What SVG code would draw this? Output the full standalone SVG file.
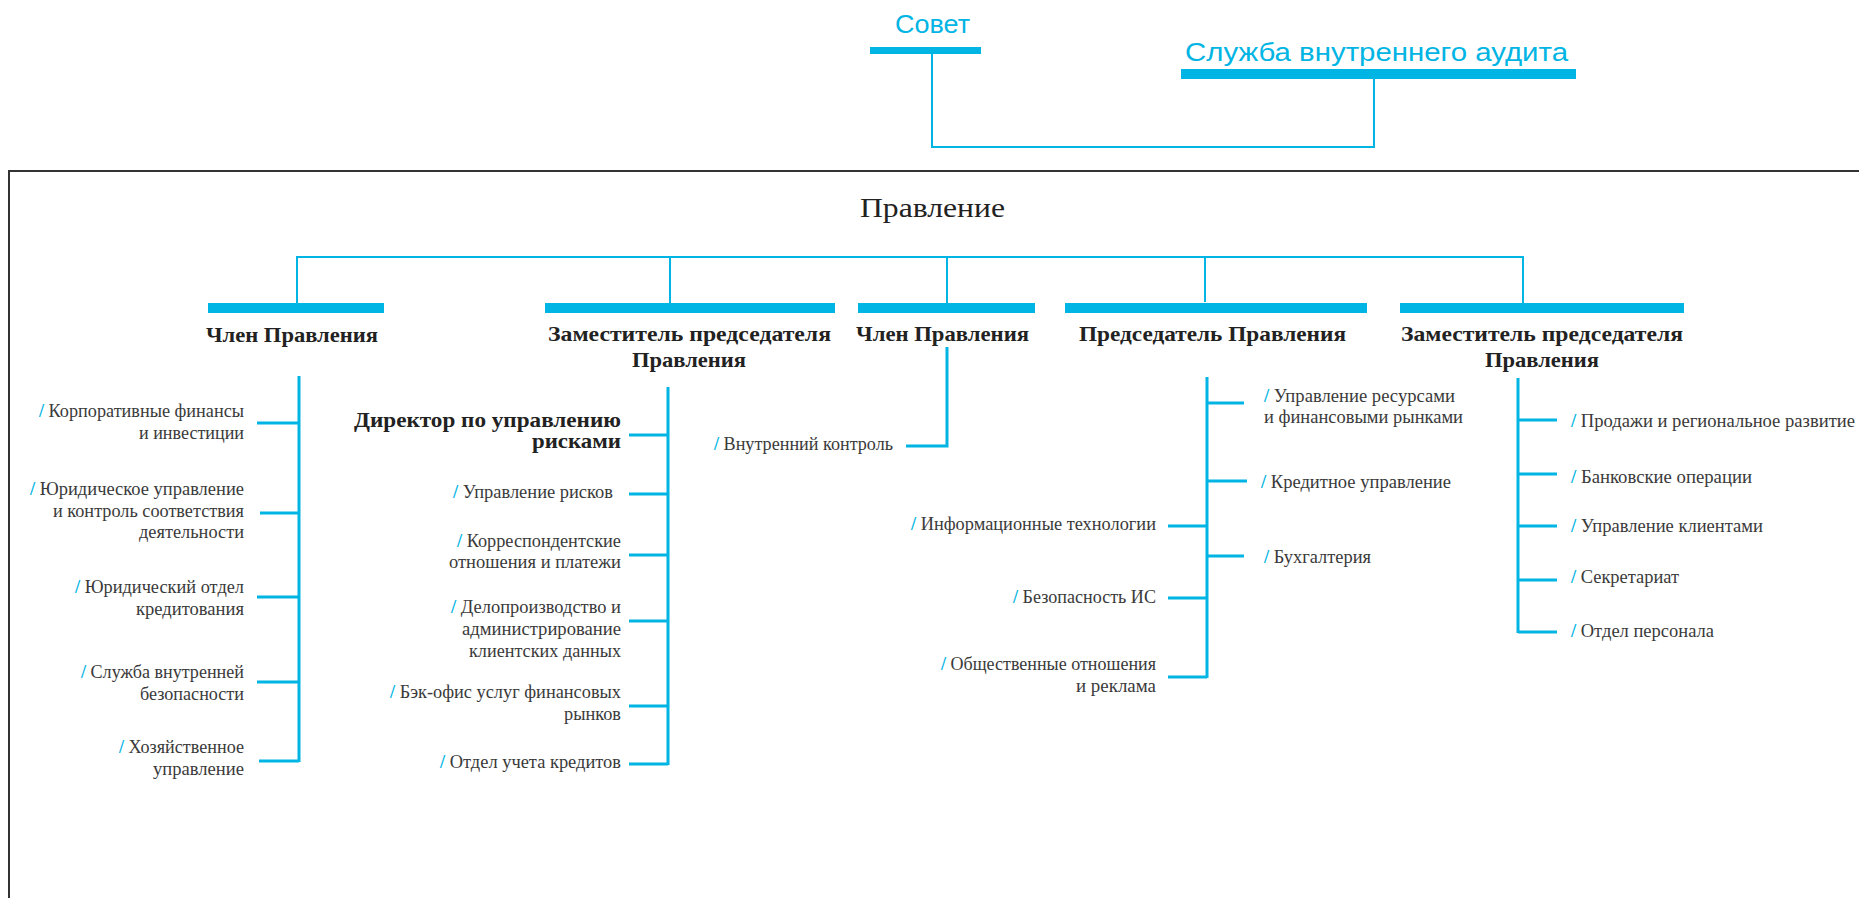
<svg xmlns="http://www.w3.org/2000/svg" width="1859" height="898" viewBox="0 0 1859 898">
<style>
.bar{fill:#00b4e3}
.ln{fill:none;stroke:#00b4e3;stroke-width:2}
.br{fill:none;stroke:#00b4e3;stroke-width:3}
.top{font-family:"Liberation Sans","DejaVu Sans",sans-serif;font-size:26px;fill:#00b4e3}
.title{font-family:"Liberation Serif","DejaVu Serif",serif;font-size:27px;fill:#222}
.hd{font-family:"Liberation Serif","DejaVu Serif",serif;font-size:21px;font-weight:bold;fill:#222;text-anchor:middle}
.dir{font-family:"Liberation Serif","DejaVu Serif",serif;font-size:21px;font-weight:bold;fill:#222;text-anchor:end}
.t{font-family:"Liberation Serif","DejaVu Serif",serif;font-size:18px;fill:#3a3a3a}
.r{text-anchor:end}
.s{fill:#00b4e3;font-weight:bold}
</style>
<rect x="9" y="171" width="1900" height="800" fill="none" stroke="#333" stroke-width="2"/>

<g id="connectors">
<path class="ln" d="M932,54 V147 H1374 V79"/>
<path class="ln" d="M297,304 V257 H1523 V303"/>
<path class="ln" d="M670,257 V303"/>
<path class="ln" d="M947,257 V304"/>
<path class="ln" d="M1205,257 V302"/>
<path class="br" d="M299,376 V762"/>
<path class="br" d="M257,423 H299 M260,513 H299 M257,597 H299 M257,682 H299 M259,761 H299"/>
<path class="br" d="M668,387 V765"/>
<path class="br" d="M629,435 H668 M629,494 H668 M629,555 H668 M629,621 H668 M629,706 H668 M629,764 H668"/>
<path class="br" d="M947,347 V446 H906"/>
<path class="br" d="M1207,377 V678"/>
<path class="br" d="M1207,403 H1244 M1207,481 H1247 M1207,556 H1244 M1168,526 H1207 M1168,598 H1207 M1168,677 H1207"/>
<path class="br" d="M1518,378 V633"/>
<path class="br" d="M1518,420 H1557 M1518,474 H1557 M1518,526 H1557 M1518,580 H1557 M1518,632 H1557"/>
</g>

<g id="sovet">
<rect class="bar" x="870" y="47" width="111" height="7"/>
<text class="top" x="895" y="33" textLength="75" lengthAdjust="spacingAndGlyphs">Совет</text>
</g>
<g id="audit">
<rect class="bar" x="1181" y="69" width="395" height="10"/>
<text class="top" x="1185" y="61" textLength="383" lengthAdjust="spacingAndGlyphs">Служба внутреннего аудита</text>
</g>
<g id="pravlenie">
<text class="title" x="860" y="217" textLength="145" lengthAdjust="spacingAndGlyphs">Правление</text>
</g>

<g id="member1">
<rect class="bar" x="208" y="303" width="176" height="10"/>
<text class="hd" x="292" y="342" textLength="172" lengthAdjust="spacingAndGlyphs">Член Правления</text>
</g>
<g id="deputy1">
<rect class="bar" x="545" y="303" width="290" height="10"/>
<text class="hd" x="689.5" y="341" textLength="283" lengthAdjust="spacingAndGlyphs">Заместитель председателя</text>
<text class="hd" x="689" y="367" textLength="114" lengthAdjust="spacingAndGlyphs">Правления</text>
</g>
<g id="member2">
<rect class="bar" x="858" y="303" width="177" height="10"/>
<text class="hd" x="942.5" y="341" textLength="173" lengthAdjust="spacingAndGlyphs">Член Правления</text>
</g>
<g id="chairman">
<rect class="bar" x="1065" y="303" width="302" height="10"/>
<text class="hd" x="1212.5" y="341" textLength="267" lengthAdjust="spacingAndGlyphs">Председатель Правления</text>
</g>
<g id="deputy2">
<rect class="bar" x="1400" y="303" width="284" height="10"/>
<text class="hd" x="1542" y="341" textLength="282" lengthAdjust="spacingAndGlyphs">Заместитель председателя</text>
<text class="hd" x="1542" y="367" textLength="114" lengthAdjust="spacingAndGlyphs">Правления</text>
</g>

<g id="member1-units">
<text class="t r" x="244" y="417" textLength="205" lengthAdjust="spacingAndGlyphs"><tspan class="s">/</tspan> Корпоративные финансы</text>
<text class="t r" x="244" y="439" textLength="105" lengthAdjust="spacingAndGlyphs">и инвестиции</text>
<text class="t r" x="244" y="495" textLength="214" lengthAdjust="spacingAndGlyphs"><tspan class="s">/</tspan> Юридическое управление</text>
<text class="t r" x="244" y="517" textLength="191" lengthAdjust="spacingAndGlyphs">и контроль соответствия</text>
<text class="t r" x="244" y="538" textLength="105" lengthAdjust="spacingAndGlyphs">деятельности</text>
<text class="t r" x="244" y="593" textLength="169" lengthAdjust="spacingAndGlyphs"><tspan class="s">/</tspan> Юридический отдел</text>
<text class="t r" x="244" y="615" textLength="108" lengthAdjust="spacingAndGlyphs">кредитования</text>
<text class="t r" x="244" y="678" textLength="163" lengthAdjust="spacingAndGlyphs"><tspan class="s">/</tspan> Служба внутренней</text>
<text class="t r" x="244" y="700" textLength="104" lengthAdjust="spacingAndGlyphs">безопасности</text>
<text class="t r" x="244" y="753" textLength="125" lengthAdjust="spacingAndGlyphs"><tspan class="s">/</tspan> Хозяйственное</text>
<text class="t r" x="244" y="775" textLength="91" lengthAdjust="spacingAndGlyphs">управление</text>
</g>

<g id="deputy1-units">
<text class="dir" x="621" y="427" textLength="267" lengthAdjust="spacingAndGlyphs">Директор по управлению</text>
<text class="dir" x="621" y="448" textLength="89" lengthAdjust="spacingAndGlyphs">рисками</text>
<text class="t r" x="613" y="498" textLength="160" lengthAdjust="spacingAndGlyphs"><tspan class="s">/</tspan> Управление рисков</text>
<text class="t r" x="621" y="547" textLength="164" lengthAdjust="spacingAndGlyphs"><tspan class="s">/</tspan> Корреспондентские</text>
<text class="t r" x="621" y="568" textLength="172" lengthAdjust="spacingAndGlyphs">отношения и платежи</text>
<text class="t r" x="621" y="613" textLength="170" lengthAdjust="spacingAndGlyphs"><tspan class="s">/</tspan> Делопроизводство и</text>
<text class="t r" x="621" y="635" textLength="159" lengthAdjust="spacingAndGlyphs">администрирование</text>
<text class="t r" x="621" y="657" textLength="152" lengthAdjust="spacingAndGlyphs">клиентских данных</text>
<text class="t r" x="621" y="698" textLength="231" lengthAdjust="spacingAndGlyphs"><tspan class="s">/</tspan> Бэк-офис услуг финансовых</text>
<text class="t r" x="621" y="720" textLength="57" lengthAdjust="spacingAndGlyphs">рынков</text>
<text class="t r" x="621" y="768" textLength="181" lengthAdjust="spacingAndGlyphs"><tspan class="s">/</tspan> Отдел учета кредитов</text>
</g>

<g id="member2-units">
<text class="t r" x="893" y="450" textLength="179" lengthAdjust="spacingAndGlyphs"><tspan class="s">/</tspan> Внутренний контроль</text>
</g>

<g id="chairman-units">
<text class="t" x="1264" y="402" textLength="191" lengthAdjust="spacingAndGlyphs"><tspan class="s">/</tspan> Управление ресурсами</text>
<text class="t" x="1264" y="423" textLength="199" lengthAdjust="spacingAndGlyphs">и финансовыми рынками</text>
<text class="t" x="1261" y="488" textLength="190" lengthAdjust="spacingAndGlyphs"><tspan class="s">/</tspan> Кредитное управление</text>
<text class="t" x="1264" y="563" textLength="107" lengthAdjust="spacingAndGlyphs"><tspan class="s">/</tspan> Бухгалтерия</text>
<text class="t r" x="1156" y="530" textLength="245" lengthAdjust="spacingAndGlyphs"><tspan class="s">/</tspan> Информационные технологии</text>
<text class="t r" x="1156" y="603" textLength="143" lengthAdjust="spacingAndGlyphs"><tspan class="s">/</tspan> Безопасность ИС</text>
<text class="t r" x="1156" y="670" textLength="215" lengthAdjust="spacingAndGlyphs"><tspan class="s">/</tspan> Общественные отношения</text>
<text class="t r" x="1156" y="692" textLength="80" lengthAdjust="spacingAndGlyphs">и реклама</text>
</g>

<g id="deputy2-units">
<text class="t" x="1571" y="427" font-size="19" textLength="284" lengthAdjust="spacingAndGlyphs"><tspan class="s">/</tspan> Продажи и региональное развитие</text>
<text class="t" x="1571" y="483" font-size="19" textLength="181" lengthAdjust="spacingAndGlyphs"><tspan class="s">/</tspan> Банковские операции</text>
<text class="t" x="1571" y="532" font-size="19" textLength="192" lengthAdjust="spacingAndGlyphs"><tspan class="s">/</tspan> Управление клиентами</text>
<text class="t" x="1571" y="583" font-size="19" textLength="108" lengthAdjust="spacingAndGlyphs"><tspan class="s">/</tspan> Секретариат</text>
<text class="t" x="1571" y="637" font-size="19" textLength="143" lengthAdjust="spacingAndGlyphs"><tspan class="s">/</tspan> Отдел персонала</text>
</g>
</svg>
